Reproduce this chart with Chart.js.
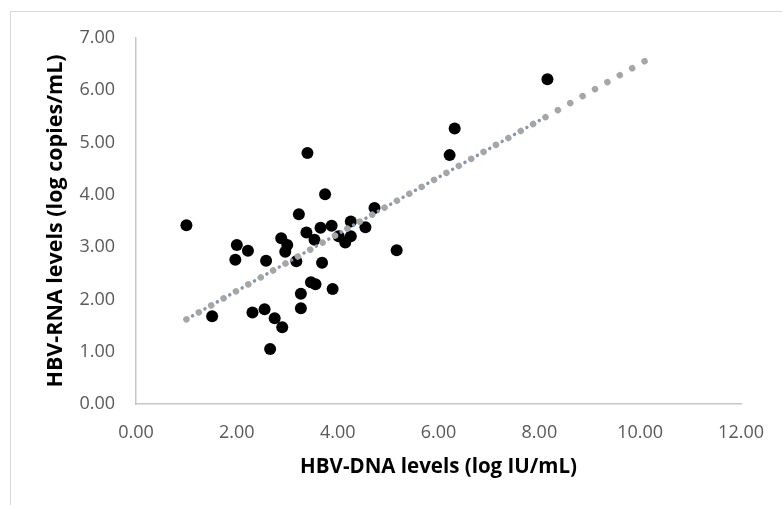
<!DOCTYPE html>
<html>
<head>
<meta charset="utf-8">
<script src="https://cdn.jsdelivr.net/npm/chart.js@4.4.1/dist/chart.umd.min.js"></script>
<style>
  html, body { margin: 0; padding: 0; background: #fff; }
  #wrap { width: 782px; height: 505px; position: relative; }
</style>
</head>
<body>
<div id="wrap"><canvas id="chart"></canvas></div>
<script>
// HBV-DNA (x) vs HBV-RNA (y)
const dnaLevels = [1.00, 1.51, 2.00, 1.97, 2.22, 2.31, 2.58, 2.55, 2.75, 2.66,
  2.90, 2.88, 3.00, 2.96, 3.18, 3.23, 3.27, 3.27, 3.40, 3.38,
  3.54, 3.47, 3.56, 3.66, 3.69, 3.75, 3.88, 3.90, 4.02, 4.15,
  4.26, 4.26, 4.55, 4.73, 5.17, 6.22, 6.32, 8.16];
const rnaLevels = [3.42, 1.68, 3.04, 2.76, 2.93, 1.75, 2.74, 1.81, 1.64, 1.05,
  1.47, 3.17, 3.04, 2.91, 2.73, 3.63, 2.11, 1.83, 4.80, 3.28,
  3.14, 2.33, 2.29, 3.37, 2.70, 4.01, 3.41, 2.20, 3.21, 3.09,
  3.21, 3.49, 3.38, 3.75, 2.94, 4.76, 5.27, 6.21];

// trendline (extended forward) and the fitted part over the data range
const trendX = [1.00, 10.15];
const trendY = [1.62, 6.59];
const fitX = [1.00, 8.16];
const fitY = [1.62, 5.51];

const xTicks = [0, 2, 4, 6, 8, 10, 12];
const yTicks = [0, 1, 2, 3, 4, 5, 6, 7];

const toPoints = (xs, ys) => xs.map((x, i) => ({ x: x, y: ys[i] }));

// light frame round the chart, like the spreadsheet chart border
const framePlugin = {
  id: "frame",
  beforeDraw(chart) {
    const c = chart.ctx;
    c.save();
    c.strokeStyle = "#d9d9d9";
    c.lineWidth = 1;
    c.strokeRect(10.5, 11.5, 900, 600);
    c.restore();
  }
};

const tickFont = { family: "'Open Sans', sans-serif", size: 18 };

new Chart(document.getElementById("chart"), {
  type: "scatter",
  data: {
    datasets: [
      {
        label: "Trend",
        data: toPoints(trendX, trendY),
        showLine: true,
        pointRadius: 0,
        borderColor: "#a6a6a6",
        borderWidth: 6.5,
        borderDash: [0.01, 14.2],
        borderCapStyle: "round",
        order: 0
      },
      {
        label: "Fit",
        data: toPoints(fitX, fitY),
        showLine: true,
        pointRadius: 0,
        borderColor: "#8497b0",
        borderWidth: 3.5,
        borderDash: [0.01, 14.2],
        borderDashOffset: 7.1,
        borderCapStyle: "round",
        order: 0
      },
      {
        label: "Patients",
        data: toPoints(dnaLevels, rnaLevels),
        pointRadius: 6,
        pointBackgroundColor: "#000000",
        pointBorderColor: "#000000",
        pointBorderWidth: 0,
        order: 1
      }
    ]
  },
  options: {
    responsive: true,
    maintainAspectRatio: false,
    animation: false,
    events: [],
    layout: { padding: { top: 38, right: 34, left: 0, bottom: 0 } },
    plugins: {
      legend: { display: false },
      tooltip: { enabled: false }
    },
    scales: {
      x: {
        type: "linear",
        min: 0,
        max: 12,
        afterBuildTicks: (s) => { s.ticks = xTicks.map(v => ({ value: v })); },
        afterFit: (s) => { s.height = 101; },
        grid: { display: false, drawTicks: false },
        border: { display: true, color: "#c8c8c8", width: 1.5 },
        ticks: {
          padding: 18,
          color: "#595959",
          font: tickFont,
          maxRotation: 0,
          callback: (v) => Number(v).toFixed(2)
        },
        title: {
          display: true,
          text: "HBV-DNA levels (log IU/mL)",
          color: "#000000",
          font: { family: "'Open Sans', sans-serif", size: 20.5, weight: "bold" },
          padding: { top: 0, bottom: 26 }
        }
      },
      y: {
        type: "linear",
        min: 0,
        max: 7,
        afterBuildTicks: (s) => { s.ticks = yTicks.map(v => ({ value: v })); },
        afterFit: (s) => { s.width = 136; },
        grid: { display: false, drawTicks: false },
        border: { display: true, color: "#c8c8c8", width: 1.5 },
        ticks: {
          padding: 21,
          color: "#595959",
          font: tickFont,
          callback: (v) => Number(v).toFixed(2)
        },
        title: {
          display: true,
          text: "HBV-RNA levels (log copies/mL)",
          color: "#000000",
          font: { family: "'Open Sans', sans-serif", size: 21.5, weight: "bold" },
          padding: { top: 43, bottom: 0 }
        }
      }
    }
  },
  plugins: [framePlugin]
});
</script>
</body>
</html>
